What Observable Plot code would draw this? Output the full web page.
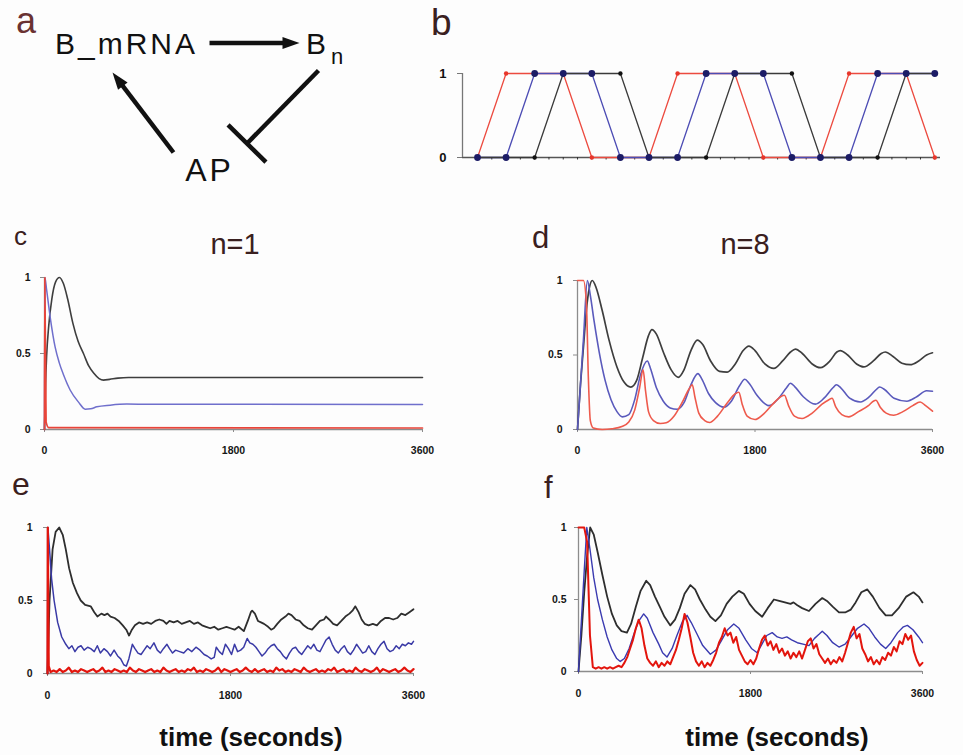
<!DOCTYPE html>
<html><head><meta charset="utf-8">
<script src="https://cdn.jsdelivr.net/npm/d3@7"></script>
<script src="https://cdn.jsdelivr.net/npm/@observablehq/plot@0.6"></script>
<style>
body{margin:0;background:#fdfdfd;}
#fig{position:relative;width:963px;height:755px;background:#fdfdfd;font-family:"Liberation Sans",Arial,sans-serif;overflow:hidden}
.holder{position:absolute}
.lbl{position:absolute;line-height:1;white-space:nowrap;color:#3a2020}
#panelA text{letter-spacing:3px}
g[aria-label="y-axis tick label"], g[aria-label="x-axis tick label"]{font-weight:700}
</style></head>
<body><div id="fig"></div>
<script>
// ---------- DATA ----------
// panel a: regulatory network (diagram units)
const netLabels = [
  {label:"B_mRNA", x:126, y:44, size:30},
  {label:"B", x:317, y:44, size:30},
  {label:"n", x:338, y:56, size:22},
  {label:"AP", x:209, y:170, size:32}
];
const netEdges = [
  {x1:209, y1:42.5, x2:299, y2:42.5, type:"activate"},
  {x1:173, y1:152, x2:112, y2:72, type:"activate"},
  {x1:318, y1:70, x2:246.5, y2:143, type:"inhibit"}
];

// panel b: boolean network states per time step
const bRed   = [0,1,1,1,0,0,0,1,1,1,0,0,0,1,1,1,0];
const bBlue  = [0,0,1,1,1,0,0,0,1,1,1,0,0,0,1,1,1];
const bBlack = [0,0,0,1,1,1,0,0,0,1,1,1,0,0,0,1,1];
const bTicks = [0,1];

// time-course axes
const xTicks = [0, 1800, 3600];
const yTicks = [0, 0.5, 1];

// panel c (n=1, deterministic)  [time, value]
const cBlack = [[0,0],[10,0.3],[20,0.48],[40,0.68],[70,0.86],[105,0.97],[143,1.0],[180,0.96],[220,0.86],[270,0.7],[320,0.58],[371,0.5],[420,0.42],[470,0.37],[520,0.335],[562,0.325],[620,0.33],[700,0.338],[800,0.342],[3600,0.342]];
const cBlue  = [[0,0],[4,1],[20,0.92],[54,0.74],[102,0.54],[140,0.44],[181,0.36],[244,0.26],[324,0.18],[387,0.134],[440,0.136],[498,0.149],[625,0.16],[784,0.167],[1000,0.166],[3600,0.165]];
const cRed   = [[0,0],[3,1],[15,0.05],[40,0.012],[3600,0.01]];

// panel d (n=8, deterministic)
const dBlack = [[0,0],[30,0.3],[60,0.55],[90,0.8],[120,0.95],[150,1.0],[190,0.95],[250,0.8],[320,0.6],[400,0.42],[470,0.32],[540,0.285],[600,0.33],[660,0.48],[720,0.63],[755,0.67],[800,0.64],[870,0.52],[950,0.4],[1022,0.35],[1080,0.4],[1150,0.53],[1215,0.6],[1270,0.57],[1350,0.46],[1440,0.39],[1518,0.385],[1600,0.44],[1680,0.53],[1738,0.56],[1800,0.53],[1900,0.44],[1991,0.41],[2080,0.46],[2160,0.52],[2210,0.54],[2280,0.51],[2380,0.44],[2463,0.415],[2560,0.46],[2630,0.52],[2665,0.53],[2740,0.5],[2830,0.44],[2902,0.42],[3000,0.46],[3080,0.51],[3121,0.52],[3200,0.49],[3290,0.445],[3374,0.435],[3460,0.46],[3540,0.5],[3600,0.515]];
const dBlue  = [[0,0],[30,0.3],[60,0.6],[100,1.0],[130,0.9],[170,0.72],[220,0.52],[280,0.33],[340,0.2],[400,0.12],[455,0.085],[520,0.1],[580,0.2],[640,0.37],[708,0.46],[740,0.41],[800,0.28],[870,0.19],[940,0.145],[1012,0.136],[1080,0.18],[1150,0.3],[1221,0.375],[1260,0.34],[1330,0.24],[1400,0.18],[1485,0.15],[1560,0.19],[1640,0.29],[1697,0.337],[1740,0.31],[1820,0.23],[1940,0.16],[2040,0.21],[2120,0.28],[2159,0.31],[2200,0.29],[2290,0.22],[2412,0.17],[2500,0.21],[2590,0.28],[2625,0.3],[2670,0.28],[2760,0.21],[2868,0.185],[2960,0.22],[3040,0.275],[3064,0.285],[3110,0.27],[3210,0.21],[3340,0.19],[3440,0.22],[3540,0.26],[3600,0.257]];
const dRed   = [[0,1],[60,1],[90,0.85],[110,0.35],[130,0.06],[160,0.01],[250,0.0],[350,0.005],[450,0.02],[520,0.05],[580,0.13],[630,0.28],[665,0.4],[690,0.26],[720,0.12],[770,0.06],[840,0.04],[900,0.045],[980,0.09],[1060,0.18],[1130,0.27],[1164,0.3],[1190,0.22],[1230,0.11],[1290,0.06],[1340,0.047],[1420,0.09],[1520,0.18],[1600,0.24],[1636,0.25],[1670,0.17],[1720,0.09],[1800,0.067],[1880,0.1],[1980,0.17],[2060,0.22],[2098,0.23],[2140,0.16],[2200,0.09],[2277,0.074],[2380,0.11],[2480,0.17],[2550,0.2],[2581,0.21],[2620,0.15],[2680,0.1],[2750,0.085],[2850,0.12],[2950,0.16],[3000,0.19],[3026,0.196],[3070,0.15],[3130,0.11],[3205,0.096],[3300,0.12],[3400,0.16],[3475,0.185],[3530,0.16],[3600,0.123]];

// panel e (n=1, stochastic)
const eBlack = [[0,0],[20,0.5],[50,0.85],[80,0.97],[115,1.0],[150,0.95],[180,0.85],[213,0.72],[250,0.62],[290,0.55],[327,0.5],[370,0.47],[425,0.46],[460,0.42],[491,0.39],[530,0.41],[560,0.4],[590,0.41],[620,0.39],[660,0.38],[700,0.36],[740,0.33],[775,0.3],[802,0.26],[830,0.3],[860,0.33],[900,0.35],[940,0.34],[980,0.35],[1020,0.34],[1060,0.36],[1100,0.37],[1140,0.36],[1170,0.34],[1200,0.36],[1240,0.35],[1280,0.36],[1320,0.34],[1360,0.35],[1400,0.36],[1440,0.34],[1480,0.35],[1520,0.33],[1560,0.32],[1600,0.31],[1640,0.32],[1680,0.3],[1720,0.31],[1760,0.32],[1800,0.31],[1840,0.3],[1880,0.32],[1931,0.29],[1970,0.36],[2000,0.42],[2013,0.43],[2040,0.41],[2070,0.36],[2100,0.35],[2130,0.34],[2170,0.32],[2200,0.3],[2226,0.31],[2260,0.34],[2300,0.37],[2340,0.39],[2370,0.41],[2400,0.4],[2440,0.37],[2480,0.36],[2520,0.33],[2560,0.31],[2602,0.3],[2640,0.33],[2680,0.36],[2720,0.37],[2740,0.39],[2770,0.37],[2810,0.34],[2848,0.33],[2890,0.36],[2930,0.39],[2970,0.41],[3000,0.43],[3028,0.46],[3060,0.42],[3090,0.37],[3120,0.34],[3158,0.33],[3200,0.34],[3240,0.33],[3280,0.36],[3320,0.38],[3360,0.38],[3400,0.37],[3440,0.38],[3480,0.41],[3520,0.4],[3560,0.42],[3600,0.44]];
const eBlue  = [[0,0],[4,1],[20,0.85],[40,0.65],[65,0.5],[100,0.35],[140,0.25],[180,0.2],[210,0.17],[240,0.19],[270,0.15],[300,0.18],[330,0.19],[360,0.16],[395,0.18],[425,0.17],[460,0.15],[490,0.19],[520,0.14],[555,0.17],[590,0.15],[620,0.12],[655,0.16],[690,0.12],[720,0.1],[750,0.06],[775,0.05],[800,0.1],[835,0.2],[860,0.17],[890,0.14],[920,0.13],[950,0.16],[980,0.19],[1010,0.17],[1047,0.21],[1080,0.16],[1110,0.14],[1140,0.17],[1175,0.2],[1200,0.17],[1230,0.14],[1260,0.16],[1300,0.15],[1340,0.14],[1380,0.17],[1420,0.15],[1460,0.18],[1500,0.16],[1540,0.13],[1571,0.12],[1610,0.1],[1640,0.11],[1660,0.18],[1690,0.15],[1720,0.13],[1750,0.2],[1780,0.17],[1810,0.13],[1840,0.2],[1870,0.15],[1900,0.16],[1930,0.18],[1964,0.24],[1990,0.21],[2020,0.2],[2050,0.18],[2080,0.15],[2110,0.12],[2140,0.14],[2170,0.17],[2200,0.19],[2230,0.2],[2260,0.17],[2290,0.15],[2320,0.12],[2350,0.1],[2380,0.14],[2410,0.17],[2440,0.18],[2470,0.15],[2500,0.13],[2530,0.16],[2560,0.19],[2590,0.17],[2620,0.2],[2650,0.16],[2680,0.15],[2710,0.19],[2740,0.23],[2770,0.25],[2800,0.2],[2830,0.16],[2860,0.14],[2890,0.17],[2920,0.19],[2950,0.15],[2980,0.13],[3010,0.16],[3040,0.2],[3070,0.17],[3100,0.14],[3130,0.15],[3160,0.19],[3190,0.15],[3220,0.13],[3250,0.17],[3280,0.2],[3310,0.22],[3340,0.17],[3370,0.15],[3400,0.16],[3430,0.19],[3460,0.17],[3490,0.2],[3520,0.19],[3550,0.21],[3580,0.2],[3600,0.22]];
const eRedStart = [[0,0],[3,1],[12,0.05],[30,0.01]];
const eRedNoise = [ // values every 30 s from t = 60 s
  0.02,0.01,0.03,0.01,0.02,0.04,0.01,0.02,0.01,0.03,
  0.02,0.01,0.02,0.03,0.01,0.02,0.04,0.01,0.02,0.01,
  0.03,0.02,0.01,0.02,0.01,0.04,0.02,0.01,0.03,0.02,
  0.01,0.02,0.03,0.01,0.02,0.01,0.04,0.02,0.01,0.02,
  0.03,0.01,0.02,0.01,0.03,0.02,0.04,0.01,0.02,0.01,
  0.03,0.02,0.01,0.02,0.04,0.01,0.03,0.02,0.01,0.02,
  0.03,0.01,0.02,0.04,0.02,0.01,0.03,0.01,0.02,0.03,
  0.01,0.02,0.01,0.04,0.02,0.03,0.01,0.02,0.01,0.03,
  0.02,0.01,0.04,0.02,0.01,0.02,0.03,0.01,0.02,0.01,
  0.03,0.02,0.04,0.01,0.02,0.03,0.01,0.02,0.01,0.04,
  0.02,0.01,0.03,0.02,0.01,0.02,0.04,0.01,0.03,0.02,
  0.01,0.02,0.03,0.01,0.02,0.04,0.02,0.01,0.03];

// panel f (n=8, stochastic)
const fBlack = [[0,0],[30,0.25],[60,0.55],[90,0.8],[122,1.0],[160,0.95],[200,0.83],[250,0.67],[300,0.52],[350,0.4],[400,0.32],[450,0.28],[507,0.27],[550,0.33],[600,0.45],[650,0.56],[709,0.63],[750,0.6],[800,0.52],[850,0.45],[900,0.38],[961,0.32],[1010,0.36],[1060,0.44],[1110,0.54],[1171,0.6],[1220,0.57],[1270,0.5],[1330,0.43],[1380,0.38],[1433,0.35],[1490,0.39],[1550,0.47],[1610,0.52],[1678,0.56],[1730,0.54],[1790,0.47],[1850,0.42],[1922,0.38],[1980,0.44],[2045,0.5],[2100,0.49],[2160,0.48],[2219,0.47],[2250,0.48],[2290,0.46],[2340,0.44],[2412,0.42],[2480,0.47],[2551,0.51],[2600,0.49],[2660,0.45],[2726,0.41],[2790,0.41],[2850,0.43],[2900,0.48],[2960,0.55],[3023,0.57],[3080,0.52],[3150,0.44],[3215,0.39],[3280,0.39],[3350,0.44],[3430,0.52],[3505,0.55],[3560,0.52],[3600,0.48]];
const fBlue  = [[0,0],[30,0.35],[60,0.7],[87,1.0],[120,0.85],[160,0.65],[200,0.5],[250,0.36],[300,0.24],[350,0.15],[400,0.09],[437,0.07],[480,0.09],[530,0.16],[580,0.26],[630,0.35],[682,0.4],[720,0.37],[780,0.27],[840,0.19],[880,0.13],[926,0.1],[980,0.16],[1030,0.25],[1090,0.35],[1136,0.39],[1180,0.34],[1240,0.26],[1300,0.18],[1380,0.12],[1440,0.15],[1500,0.22],[1560,0.29],[1625,0.33],[1680,0.3],[1750,0.22],[1810,0.16],[1870,0.13],[1920,0.19],[1970,0.25],[2027,0.27],[2080,0.24],[2130,0.23],[2180,0.24],[2230,0.22],[2290,0.2],[2350,0.19],[2412,0.18],[2470,0.23],[2520,0.26],[2551,0.28],[2600,0.25],[2660,0.2],[2726,0.17],[2790,0.19],[2850,0.24],[2920,0.3],[2988,0.33],[3040,0.3],[3100,0.24],[3160,0.19],[3215,0.16],[3270,0.2],[3340,0.27],[3400,0.31],[3442,0.32],[3500,0.29],[3560,0.24],[3600,0.2]];
const fRed = [ // values every 30 s from t = 0 s
  1.0,1.0,1.0,0.9,0.25,0.03,0.02,0.03,0.02,0.03,
  0.02,0.03,0.02,0.03,0.04,0.03,0.06,0.1,0.16,0.22,
  0.3,0.36,0.3,0.18,0.09,0.06,0.04,0.07,0.03,0.06,
  0.04,0.07,0.05,0.1,0.15,0.22,0.3,0.4,0.34,0.24,
  0.13,0.07,0.04,0.07,0.03,0.06,0.04,0.08,0.13,0.2,
  0.24,0.3,0.25,0.27,0.2,0.24,0.15,0.11,0.07,0.05,
  0.08,0.05,0.09,0.16,0.22,0.25,0.18,0.21,0.15,0.19,
  0.13,0.16,0.11,0.14,0.09,0.13,0.1,0.14,0.09,0.15,
  0.21,0.23,0.16,0.19,0.12,0.09,0.06,0.09,0.05,0.08,
  0.06,0.1,0.07,0.13,0.2,0.27,0.31,0.23,0.26,0.16,
  0.12,0.07,0.1,0.05,0.08,0.05,0.1,0.08,0.13,0.11,
  0.17,0.14,0.21,0.19,0.26,0.22,0.25,0.14,0.08,0.04,
  0.06];

// ---------- DRAWING ----------
const FONT = '"Liberation Sans", Arial, sans-serif';
const AXIS = "#8c8c8c";
const fig = document.getElementById("fig");

function place(node, left, top, id) {
  const d = document.createElement("div");
  d.className = "holder";
  d.style.left = left + "px"; d.style.top = top + "px";
  if (id) d.id = id;
  d.appendChild(node);
  fig.appendChild(d);
}
function label(text, x, baseline, size, {anchor = "start", weight = 400, color = "#3a2020", spacing = 0} = {}) {
  const d = document.createElement("div");
  d.className = "lbl";
  d.textContent = text;
  d.style.fontSize = size + "px";
  d.style.fontWeight = weight;
  d.style.color = color;
  d.style.letterSpacing = spacing + "px";
  d.style.top = (baseline - 0.8465 * size) + "px";
  if (anchor === "middle") { d.style.left = x + "px"; d.style.transform = "translateX(-50%)"; }
  else d.style.left = x + "px";
  fig.appendChild(d);
}
const toRows = arr => arr.map(([t, v]) => ({t, v}));
const gridRows = (vals, t0, step) => vals.map((v, i) => ({t: t0 + i * step, v}));

// ----- panel a -----
(function () {
  const shafts = [], heads = [], bars = [];
  const HL = 17;
  for (const e of netEdges) {
    const dx = e.x2 - e.x1, dy = e.y2 - e.y1, L = Math.hypot(dx, dy);
    const ux = dx / L, uy = dy / L;
    if (e.type === "activate") {
      shafts.push({x1: e.x1, y1: e.y1, x2: e.x2 - ux * (HL - 3), y2: e.y2 - uy * (HL - 3)});
      heads.push({x: e.x2, y: e.y2, angle: Math.atan2(dx, -dy) * 180 / Math.PI});
    } else {
      shafts.push({x1: e.x1, y1: e.y1, x2: e.x2, y2: e.y2});
      const px = -uy, py = ux, h = 26.5;
      bars.push({x1: e.x2 - px * h, y1: e.y2 - py * h, x2: e.x2 + px * h, y2: e.y2 + py * h});
    }
  }
  const headSymbol = {draw(ctx) { ctx.moveTo(0, 0); ctx.lineTo(6, HL); ctx.lineTo(-6, HL); ctx.closePath(); }};
  const p = Plot.plot({
    width: 420, height: 200, margin: 0,
    x: {domain: [0, 420], axis: null}, y: {domain: [200, 0], axis: null},
    style: {background: "transparent", overflow: "visible", fontFamily: FONT},
    marks: [
      Plot.link(shafts, {x1: "x1", y1: "y1", x2: "x2", y2: "y2", stroke: "#111", strokeWidth: 4.5}),
      Plot.link(bars, {x1: "x1", y1: "y1", x2: "x2", y2: "y2", stroke: "#111", strokeWidth: 4.5}),
      Plot.dot(heads, {x: "x", y: "y", symbol: headSymbol, rotate: "angle", r: 5, fill: "#111", stroke: null}),
      Plot.text(netLabels, {x: "x", y: "y", text: "label", fontSize: d => d.size, fill: "#111", textAnchor: "middle"})
    ]
  });
  place(p, 0, 0, "panelA");
})();

// ----- panel b -----
(function () {
  const rows = (arr) => arr.map((v, i) => ({i, v}));
  const half = d3.range(0, 16.01, 0.5);
  const p = Plot.plot({
    width: 543, height: 200, marginLeft: 42, marginRight: 23, marginTop: 73, marginBottom: 43,
    x: {domain: [-0.525, 16.2]}, y: {domain: [0, 1]},
    style: {background: "transparent", overflow: "visible", fontFamily: FONT},
    marks: [
      Plot.ruleY([0], {stroke: "#555", strokeWidth: 1.3}),
      Plot.ruleX([-0.525], {y1: 0, y2: 1, stroke: "#777", strokeWidth: 1.3}),
      Plot.axisY({ticks: bTicks, tickSize: 5, tickPadding: 11, tickFormat: d => String(d), fontSize: 13, fontWeight: "bold", stroke: "#777", fill: "#111", label: null}),
      Plot.axisX({ticks: half, tickSize: 2.5, tickFormat: () => "", stroke: "#333", label: null}),
      Plot.line(rows(bRed), {x: "i", y: "v", stroke: "#ec4a3f", strokeWidth: 1.3}),
      Plot.line(rows(bBlue), {x: "i", y: "v", stroke: "#4c4cb4", strokeWidth: 1.3}),
      Plot.line(rows(bBlack), {x: "i", y: "v", stroke: "#3a3a3a", strokeWidth: 1.3}),
      Plot.dot(rows(bRed), {x: "i", y: "v", r: 2.2, fill: "#e8362b"}),
      Plot.dot(rows(bBlack), {x: "i", y: "v", r: 2.2, fill: "#111"}),
      Plot.dot(rows(bBlue), {x: "i", y: "v", r: 3.4, fill: "#1c1c66"})
    ]
  });
  place(p, 420, 0);
})();

// ----- time panels -----
function timePanel({left, top, width, height, mt, mr, mb, ml, yPad, xPad, series}) {
  const p = Plot.plot({
    width, height, marginTop: mt, marginRight: mr, marginBottom: mb, marginLeft: ml,
    x: {domain: [0, 3600]}, y: {domain: [0, 1]},
    style: {background: "transparent", overflow: "visible", fontFamily: FONT},
    marks: [
      Plot.ruleY([0], {stroke: AXIS, strokeWidth: 1.3}),
      Plot.ruleX([0], {y1: 0, y2: 1, stroke: AXIS, strokeWidth: 1.3}),
      Plot.axisY({ticks: yTicks, tickSize: 4, tickPadding: yPad, tickFormat: d => String(d), stroke: AXIS, fill: "#161616", fontSize: 10.5, fontWeight: "bold", label: null}),
      Plot.axisX({ticks: xTicks, tickSize: 3, tickPadding: xPad, tickFormat: d => String(d), stroke: AXIS, fill: "#161616", fontSize: 10.5, fontWeight: "bold", label: null}),
      ...series.map(s => Plot.line(s.rows, {x: "t", y: "v", stroke: s.color, strokeWidth: s.width, curve: s.curve || "linear"}))
    ]
  });
  place(p, left, top);
}

timePanel({left: 0, top: 260, width: 440, height: 200, mt: 17, mr: 18, mb: 31, ml: 44, yPad: 10, xPad: 14,
  series: [
    {rows: toRows(cBlack), color: "#3e3e3e", width: 1.6, curve: "monotone-x"},
    {rows: toRows(cBlue), color: "#6f6fcc", width: 1.5, curve: "monotone-x"},
    {rows: toRows(cRed), color: "#e8453a", width: 1.7, curve: "monotone-x"}
  ]});

timePanel({left: 480, top: 260, width: 480, height: 200, mt: 20, mr: 28, mb: 31, ml: 97, yPad: 11, xPad: 14,
  series: [
    {rows: toRows(dBlack), color: "#3e3e3e", width: 1.7, curve: "monotone-x"},
    {rows: toRows(dBlue), color: "#5a5abc", width: 1.6, curve: "monotone-x"},
    {rows: toRows(dRed), color: "#ee5a4c", width: 1.6, curve: "monotone-x"}
  ]});

timePanel({left: 0, top: 480, width: 440, height: 230, mt: 47, mr: 27, mb: 37, ml: 47, yPad: 11, xPad: 15,
  series: [
    {rows: toRows(eBlack), color: "#2e2e2e", width: 1.8},
    {rows: toRows(eBlue), color: "#3a3aa6", width: 1.5},
    {rows: toRows(eRedStart).concat(gridRows(eRedNoise, 60, 30)), color: "#e3150d", width: 2.2}
  ]});

timePanel({left: 480, top: 480, width: 480, height: 230, mt: 47, mr: 38, mb: 39, ml: 98, yPad: 8, xPad: 15,
  series: [
    {rows: toRows(fBlack), color: "#2e2e2e", width: 1.8},
    {rows: toRows(fBlue), color: "#3a3ab0", width: 1.4},
    {rows: gridRows(fRed, 0, 30), color: "#e3150d", width: 2}
  ]});

// ----- text labels -----
label("a", 16, 33, 36, {color: "#6a3232"});
label("b", 431, 35, 37);
label("c", 14, 245, 26);
label("n=1", 235, 255, 29, {anchor: "middle"});
label("d", 532, 248, 31);
label("n=8", 745, 255, 29, {anchor: "middle"});
label("e", 12, 495, 32);
label("f", 544, 498, 31);
label("time (seconds)", 251, 746, 26, {anchor: "middle", weight: 700, color: "#111"});
label("time (seconds)", 777, 746, 26, {anchor: "middle", weight: 700, color: "#111"});
</script>
</body></html>
